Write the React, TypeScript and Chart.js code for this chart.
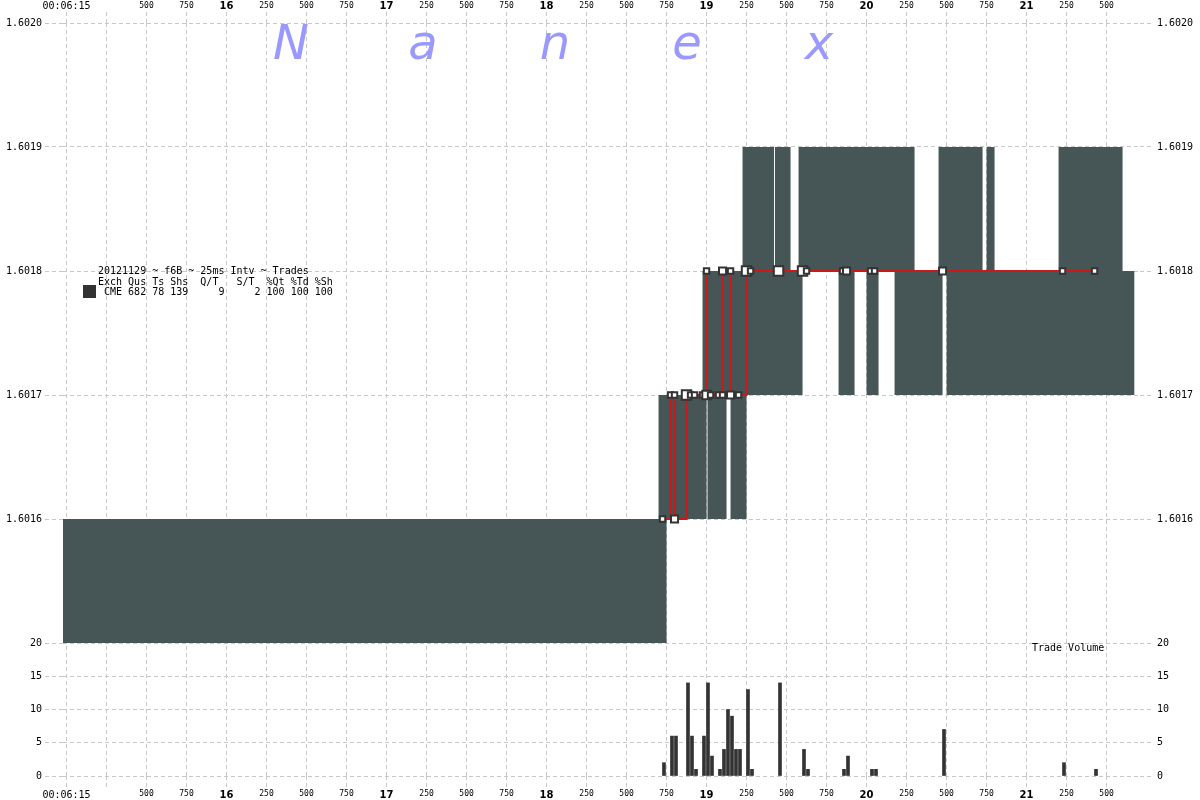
import { useEffect, useRef } from 'react';
import { Chart, registerables } from 'chart.js';

Chart.register(...registerables);

// ---- axis ranges (ms after 00:06:15.000, price, volume) ----
const X_MIN = -22;
const X_MAX = 6709;
const PRICE_MIN = 1.6015;
const PRICE_MAX = 1.602;
const VOL_MIN = 0;
const VOL_MAX = 20;

// ---- tick values / labels ----
const timeTickValues = [0, 250, 500, 750, 1000, 1250, 1500, 1750, 2000, 2250, 2500, 2750, 3000, 3250, 3500, 3750, 4000, 4250, 4500, 4750, 5000, 5250, 5500, 5750, 6000, 6250, 6500];
const timeTickLabels = ['00:06:15', '', '500', '750', '16', '250', '500', '750', '17', '250', '500', '750', '18', '250', '500', '750', '19', '250', '500', '750', '20', '250', '500', '750', '21', '250', '500'];
const priceTickValues = [1.6015, 1.6016, 1.6017, 1.6018, 1.6019, 1.602];
const priceTickLabels = ['', '1.6016', '1.6017', '1.6018', '1.6019', '1.6020'];
const volumeTickValues = [0, 5, 10, 15, 20];
const volumeTickLabels = ['0', '5', '10', '15', '20'];

// ---- CME bid / ask (value holds from the given time onward) ----
const spreadTimes = [-22, 3700, 3750, 3975, 4000, 4006, 4125, 4150, 4225, 4250, 4422, 4428, 4525, 4575, 4600, 4825, 4925, 5000, 5075, 5175, 5300, 5450, 5475, 5500, 5725, 5750, 5800, 6200, 6600, 6675];
const bidPrices = [1.6015, 1.6015, 1.6016, 1.6016, 1.6017, 1.6016, 1.6017, 1.6016, 1.6016, 1.6017, 1.6017, 1.6017, 1.6017, 1.6017, 1.6018, 1.6017, 1.6018, 1.6017, 1.6018, 1.6017, 1.6017, 1.6017, 1.6018, 1.6017, 1.6017, 1.6017, 1.6017, 1.6017, 1.6017, 1.6017];
const askPrices = [1.6016, 1.6017, 1.6017, 1.6018, 1.6018, 1.6018, 1.6018, 1.6018, 1.6019, 1.6019, 1.6018, 1.6019, 1.6018, 1.6019, 1.6019, 1.6019, 1.6019, 1.6019, 1.6019, 1.6019, 1.6018, 1.6019, 1.6019, 1.6019, 1.6018, 1.6019, 1.6018, 1.6019, 1.6018, 1.6018];

// ---- trades (25ms interval, price) ----
const tradeTimes = [3725, 3775, 3800, 3800, 3875, 3900, 3925, 3975, 4000, 4000, 4025, 4075, 4100, 4100, 4150, 4150, 4200, 4250, 4275, 4450, 4600, 4625, 4850, 4875, 5025, 5050, 5475, 6225, 6425];
const tradePrices = [1.6016, 1.6017, 1.6017, 1.6016, 1.6017, 1.6017, 1.6017, 1.6017, 1.6018, 1.6017, 1.6017, 1.6017, 1.6018, 1.6017, 1.6018, 1.6017, 1.6017, 1.6018, 1.6018, 1.6018, 1.6018, 1.6018, 1.6018, 1.6018, 1.6018, 1.6018, 1.6018, 1.6018, 1.6018];
const tradeMarkerRadius = [3.8, 3.8, 3.8, 5, 6.7, 3.8, 3.8, 3.8, 3.8, 6, 3.8, 3.8, 5, 3.8, 3.8, 5, 3.8, 6.7, 3.8, 6.7, 6.7, 3.8, 3.8, 5, 3.8, 3.8, 5, 3.8, 3.8];

// ---- trade volume per 25ms interval ----
const volumeTimes = [3725, 3775, 3800, 3875, 3900, 3925, 3975, 4000, 4025, 4075, 4100, 4125, 4150, 4175, 4200, 4250, 4275, 4450, 4600, 4625, 4850, 4875, 5025, 5050, 5475, 6225, 6425];
const volumeValues = [2, 6, 6, 14, 6, 1, 6, 14, 3, 1, 4, 10, 9, 4, 4, 13, 1, 14, 4, 1, 1, 3, 1, 1, 7, 2, 1];

// ---- texts ----
const legendLines = [
  '20121129 ~ f6B ~ 25ms Intv ~ Trades',
  'Exch Qus Ts Shs  Q/T   S/T  %Qt %Td %Sh',
  ' CME 682 78 139     9     2 100 100 100',
];
const watermarkLetters = ['N', 'a', 'n', 'e', 'x'];
const volumeTitle = 'Trade Volume';

// ---- styles ----
const MONO = '"DejaVu Sans Mono", monospace';
const GRID = '#c8c8c8';
const DASH = [4, 3];
const SPREAD = '#465555';
const RED = '#cc1818';
const BAR_OFFSET = 9;

const setTicks = (values: number[]) => (scale: any) => {
  scale.ticks = values.map((v) => ({ value: v }));
};

const timeFont = (smallLineHeight: number) => (ctx: any) => {
  const lbl = ctx && ctx.index !== undefined ? timeTickLabels[ctx.index] : '';
  if (lbl === '00:06:15') return { family: MONO, size: 10 };
  if (lbl && lbl.length === 2) return { family: '"DejaVu Sans", sans-serif', size: 10, weight: 'bold' };
  return { family: MONO, size: 8, lineHeight: `${smallLineHeight}px` };
};

const timeLabel = (_v: any, i: number) => timeTickLabels[i] ?? '';

function xAxis(position: 'top' | 'bottom', onArea: boolean, height: number, pad: number, smallLH: number) {
  return {
    type: 'linear',
    position,
    min: X_MIN,
    max: X_MAX,
    offset: false,
    afterBuildTicks: setTicks(timeTickValues),
    afterFit: (s: any) => {
      s.height = height;
    },
    grid: {
      offset: false,
      color: GRID,
      lineWidth: 1,
      drawOnChartArea: onArea,
      drawTicks: true,
      tickLength: 11,
      tickColor: GRID,
      tickWidth: 1,
      tickBorderDash: DASH,
    },
    border: { display: false, dash: DASH },
    ticks: {
      autoSkip: false,
      maxRotation: 0,
      minRotation: 0,
      padding: pad,
      color: '#000',
      callback: timeLabel,
      font: timeFont(smallLH),
    },
  };
}

function yAxis(
  position: 'left' | 'right',
  weight: number,
  min: number,
  max: number,
  values: number[],
  labels: string[],
  width: number,
  tickLength: number,
  pad: number,
  onArea: boolean
) {
  return {
    type: 'linear',
    position,
    stack: 'main',
    stackWeight: weight,
    min,
    max,
    offset: false,
    afterBuildTicks: setTicks(values),
    afterFit: (s: any) => {
      s.width = width;
    },
    grid: {
      offset: false,
      color: GRID,
      lineWidth: 1,
      drawOnChartArea: onArea,
      drawTicks: true,
      tickLength,
      tickColor: GRID,
      tickWidth: 1,
      tickBorderDash: DASH,
    },
    border: { display: false, dash: DASH },
    ticks: {
      autoSkip: false,
      padding: pad,
      color: '#000',
      font: { family: MONO, size: 10 },
      callback: (_v: any, i: number) => labels[i] ?? '',
    },
  };
}

const textPlugin = {
  id: 'nanexTexts',
  afterDatasetsDraw(chart: any) {
    const { ctx, chartArea, scales } = chart;
    ctx.save();
    // watermark
    ctx.fillStyle = '#9999ff';
    ctx.font = 'italic 48px "DejaVu Sans", sans-serif';
    ctx.textAlign = 'center';
    ctx.textBaseline = 'alphabetic';
    watermarkLetters.forEach((ch, i) => {
      ctx.fillText(ch, chartArea.left + 228 + i * 132, chartArea.top + 36);
    });
    // legend
    const ly = scales.yPriceL.getPixelForValue(1.6018);
    ctx.font = `10px ${MONO}`;
    ctx.fillStyle = '#000';
    ctx.textAlign = 'left';
    ctx.textBaseline = 'middle';
    legendLines.forEach((line, i) => {
      ctx.fillText(line, chartArea.left + 35, ly + 0.5 + i * 10.5);
    });
    ctx.fillStyle = '#333333';
    ctx.fillRect(chartArea.left + 20, ly + 14, 13, 13);
    // volume title
    ctx.fillStyle = '#000';
    ctx.fillText(volumeTitle, chartArea.right - 108, scales.yVolL.top + 5);
    ctx.restore();
  },
};

export default function App() {
  const ref = useRef<HTMLCanvasElement>(null);

  useEffect(() => {
    const canvas = ref.current;
    if (!canvas) return;
    const chart = new Chart(canvas, {
      type: 'line',
      data: {
        datasets: [
          {
            type: 'line',
            label: 'Ask',
            data: spreadTimes.map((t, i) => ({ x: t, y: askPrices[i] })),
            xAxisID: 'x',
            yAxisID: 'yPriceL',
            stepped: true,
            borderWidth: 0,
            borderColor: 'rgba(0,0,0,0)',
            pointRadius: 0,
            fill: false,
            order: 4,
          },
          {
            type: 'line',
            label: 'Bid',
            data: spreadTimes.map((t, i) => ({ x: t, y: bidPrices[i] })),
            xAxisID: 'x',
            yAxisID: 'yPriceL',
            stepped: true,
            borderWidth: 0,
            borderColor: 'rgba(0,0,0,0)',
            backgroundColor: SPREAD,
            pointRadius: 0,
            fill: '-1',
            order: 3,
          },
          {
            type: 'bar',
            label: 'Trade Volume',
            data: volumeTimes.map((t, i) => ({ x: t + BAR_OFFSET, y: volumeValues[i] })),
            xAxisID: 'x',
            yAxisID: 'yVolL',
            backgroundColor: '#333333',
            borderWidth: 0,
            barThickness: 3,
            grouped: false,
            order: 2,
          },
          {
            type: 'line',
            label: 'Trades',
            data: tradeTimes.map((t, i) => ({ x: t, y: tradePrices[i] })),
            xAxisID: 'x',
            yAxisID: 'yPriceL',
            stepped: true,
            borderColor: RED,
            borderWidth: 2,
            pointStyle: 'rect',
            pointRadius: tradeMarkerRadius,
            pointBackgroundColor: '#ffffff',
            pointBorderColor: '#333333',
            pointBorderWidth: 2,
            fill: false,
            order: 1,
          },
        ] as any,
      },
      options: {
        responsive: false,
        devicePixelRatio: 1,
        animation: false,
        events: [],
        layout: { padding: 0 },
        plugins: {
          legend: { display: false },
          tooltip: { enabled: false },
          title: { display: false },
        },
        scales: {
          x: xAxis('bottom', true, 24, 2, 9.6),
          x2: xAxis('top', false, 23, 0, 13),
          yVolL: yAxis('left', 133, VOL_MIN, VOL_MAX, volumeTickValues, volumeTickLabels, 63, 18, 3, true),
          yPriceL: yAxis('left', 620, PRICE_MIN, PRICE_MAX, priceTickValues, priceTickLabels, 63, 18, 3, true),
          yPriceR: yAxis('right', 620, PRICE_MIN, PRICE_MAX, priceTickValues, priceTickLabels, 60, 12, 5, false),
          yVolR: yAxis('right', 133, VOL_MIN, VOL_MAX, volumeTickValues, volumeTickLabels, 60, 12, 5, false),
        } as any,
      },
      plugins: [textPlugin],
    });
    return () => chart.destroy();
  }, []);

  return (
    <div style={{ position: 'fixed', left: 0, top: 0, width: 1200, height: 800, background: '#ffffff' }}>
      <canvas ref={ref} width={1200} height={800} style={{ display: 'block', width: 1200, height: 800 }} />
    </div>
  );
}
